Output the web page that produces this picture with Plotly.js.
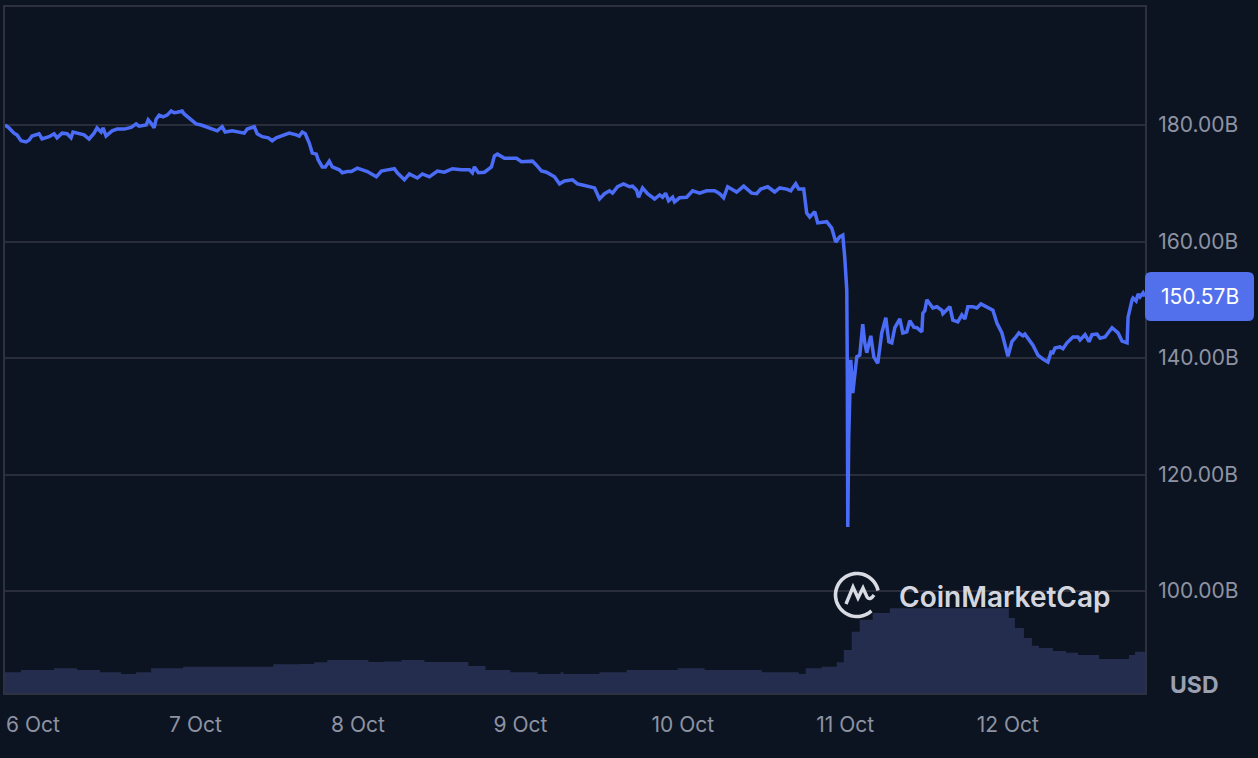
<!DOCTYPE html>
<html>
<head>
<meta charset="utf-8">
<script src="https://cdn.plot.ly/plotly-3.0.1.min.js"></script>
<style>
html,body{margin:0;padding:0;background:#0d1421;}
#chart{width:1258px;height:758px;}
</style>
</head>
<body>
<div id="chart"></div>
<script>
// ---- DATA ----
// Base date for the hour offsets (6 Oct 2025, 00:00)
const baseDate = [2025, 9, 6];

// Market cap (billions USD), hour offsets from 6 Oct 00:00
const priceHours = [
-4.14,-3.55,-2.81,-2.37,-1.77,-1.04,-0.59,-0.15,0.89,1.33,2.37,3.11,3.55,4.29,5.03,5.62,5.91,6.80,7.54,8.28,
9.02,9.46,10.06,10.35,10.79,11.68,12.42,13.46,14.49,15.23,15.67,16.71,17.01,17.45,17.89,18.19,18.63,19.22,19.81,20.41,
20.85,21.29,22.03,22.33,23.07,24.10,24.84,25.58,26.32,27.21,27.95,28.39,29.43,30.46,31.20,31.64,32.24,32.68,33.12,33.86,
34.75,35.34,35.93,36.82,37.85,38.89,39.33,39.78,40.22,40.81,41.26,41.85,42.14,42.73,43.18,43.77,44.21,45.25,45.69,46.43,
47.02,47.91,48.65,49.39,50.72,51.46,52.35,53.38,53.82,54.86,55.60,56.78,57.52,58.56,59.74,60.78,61.96,63.29,64.47,64.91,
65.21,65.80,66.69,67.72,68.17,68.61,69.65,70.68,71.42,72.16,73.05,73.79,74.38,75.12,75.86,77.04,77.78,78.52,79.70,80.44,
81.18,82.51,82.96,83.69,84.43,85.17,85.62,86.36,87.24,88.13,88.57,89.17,89.46,90.05,90.79,91.83,92.57,93.01,93.45,93.90,
94.49,94.78,95.52,96.56,97.45,98.48,99.52,100.70,101.44,102.03,102.62,103.95,104.99,106.17,106.91,107.50,108.54,109.57,110.31,111.35,
111.94,112.68,113.12,113.86,114.30,114.75,115.49,115.93,117.26,118.00,118.59,119.18,119.63,119.92,120.22,120.30,120.37,120.51,120.81,121.11,
121.40,121.70,122.14,122.58,122.88,123.18,123.77,124.21,124.80,125.39,125.99,126.43,126.87,127.32,128.06,128.50,129.09,129.53,130.13,130.57,
131.31,131.46,131.75,132.05,132.94,133.53,134.27,134.42,135.45,135.89,136.63,137.22,137.67,138.11,138.85,139.44,140.04,140.92,141.81,142.40,
143.14,144.03,144.62,145.06,145.65,146.25,146.54,147.72,148.46,149.20,149.94,150.39,150.68,150.98,151.72,152.16,152.75,153.64,154.38,154.68,
155.42,156.01,156.45,157.19,157.64,158.37,158.82,159.41,160.30,160.89,161.63,161.78,162.37,162.51,162.96,163.26,163.55,164.00,164.28
];
const priceValues = [
180.0,179.5,178.6,178.3,177.3,177.1,177.4,178.1,178.5,177.6,178.0,178.5,177.8,178.6,178.5,177.8,178.8,178.6,178.3,177.6,
178.6,179.5,178.8,179.5,178.1,179.0,179.3,179.3,179.6,180.2,179.8,180.0,180.9,180.3,179.5,181.0,181.7,181.4,181.7,182.4,
182.1,182.2,182.4,181.9,181.2,180.2,180.0,179.7,179.3,179.0,179.7,178.8,179.0,178.8,178.6,179.3,179.5,179.7,178.5,178.0,
177.8,177.3,177.8,178.1,178.6,178.3,178.1,178.8,178.5,176.9,175.2,175.0,174.0,172.8,172.8,173.8,172.8,172.3,171.8,172.0,
172.0,172.6,172.3,172.0,171.1,172.1,172.3,172.5,171.8,170.6,171.6,170.9,171.6,171.1,172.1,171.9,172.5,172.3,172.3,171.8,
172.8,171.8,171.9,172.8,174.7,175.0,174.3,174.3,174.3,173.7,173.7,173.8,173.1,172.1,171.9,171.1,169.9,170.4,170.6,169.9,
169.7,169.4,169.2,167.3,168.2,168.7,168.3,169.4,169.9,169.4,169.5,168.8,167.6,169.2,168.2,167.3,168.0,167.6,168.3,167.0,
167.6,166.8,167.5,167.6,168.7,168.3,168.7,168.7,168.2,167.5,169.4,168.5,169.5,168.3,168.2,169.0,169.4,168.5,169.2,169.0,
168.7,169.9,169.0,169.0,164.9,164.2,165.1,163.2,163.4,162.3,159.9,160.8,161.1,157.3,151.7,137.9,111.0,126.4,139.7,134.0,
137.9,140.2,140.5,145.8,142.6,140.9,143.8,140.2,139.1,144.3,146.9,142.8,142.6,145.2,146.7,144.3,144.5,146.4,145.3,145.2,
144.5,147.7,148.1,150.0,148.6,148.8,148.2,147.6,148.8,146.5,146.2,147.4,146.7,148.8,148.8,148.6,149.3,148.8,148.2,146.0,
144.3,140.3,142.8,143.4,144.3,143.8,144.1,142.2,140.5,139.8,139.3,141.0,140.9,141.7,141.9,141.6,142.6,143.6,143.6,143.1,
144.0,142.8,144.0,144.1,143.4,143.6,144.3,145.2,144.3,142.9,142.6,147.0,150.0,150.3,149.8,151.0,150.5,151.2,150.57
];

// Trading volume (billions USD), step starts as hour offsets
const volHours = [-4.14,-1.77,3.11,6.51,9.91,13.01,15.23,17.45,22.18,35.49,39.33,41.55,43.47,49.54,51.90,54.42,57.82,64.32,66.84,70.53,
74.53,77.93,78.37,83.69,87.69,95.23,99.22,107.65,113.12,114.16,116.52,118.74,119.78,120.96,122.14,124.06,126.58,144.17,145.06,146.39,
147.57,148.61,150.68,152.60,154.38,157.49,161.92,162.81,164.28];
const volValues = [4.87,5.41,5.81,5.41,4.87,4.47,4.87,5.81,6.19,6.75,6.82,7.22,7.76,7.29,7.41,7.76,7.29,6.35,5.41,4.87,
4.47,4.87,4.47,4.87,5.41,5.81,5.41,4.87,4.47,5.81,6.19,7.22,10.1,14.4,17.2,18.8,19.9,17.6,15.3,12.9,
11.1,10.6,9.88,9.48,8.94,8.0,8.94,9.72,9.72];

// Axis ticks
const xTickDates = ['2025-10-06','2025-10-07','2025-10-08','2025-10-09','2025-10-10','2025-10-11','2025-10-12'];
const xTickLabels = ['6 Oct','7 Oct','8 Oct','9 Oct','10 Oct','11 Oct','12 Oct'];
const yTickValues = [100,120,140,160,180];
const yTickLabels = ['100.00B','120.00B','140.00B','160.00B','180.00B'];
const currencyLabel = 'USD';
const brandLabel = 'CoinMarketCap';

// ---- BUILD ----
const base = Date.UTC(baseDate[0], baseDate[1], baseDate[2]);
const toTime = h => base + h * 3600000;
const priceX = priceHours.map(toTime);
const volX = volHours.map(toTime);
const lastVal = priceValues[priceValues.length - 1];

const volTrace = {
  type: 'scatter', mode: 'lines', x: volX, y: volValues, yaxis: 'y2',
  line: {shape: 'hv', width: 0, color: '#262e4f'},
  fill: 'tozeroy', fillcolor: '#252d4e', hoverinfo: 'skip'
};
const priceTrace = {
  type: 'scatter', mode: 'lines', x: priceX, y: priceValues,
  line: {color: '#4a6cf6', width: 3.5}, hoverinfo: 'skip'
};

// logo ring path (pixel coords relative to centre)
function arcPath(r, a0, a1, n) {
  let s = '';
  for (let i = 0; i <= n; i++) {
    const a = (a0 + (a1 - a0) * i / n) * Math.PI / 180;
    s += (i === 0 ? 'M ' : ' L ') + (r * Math.cos(a)).toFixed(2) + ' ' + (r * Math.sin(a)).toFixed(2);
  }
  return s;
}
const logoColor = 'rgba(232,235,242,0.93)';
const logoX = (857 - 5) / 1140, logoY = (693 - 595) / 686;

const layout = {
  width: 1258, height: 758,
  margin: {l: 5, r: 113, t: 7, b: 65, pad: 0},
  paper_bgcolor: '#0d1421', plot_bgcolor: '#0d1421',
  showlegend: false,
  font: {family: 'Inter, "Noto Sans", sans-serif', color: '#8d93a3'},
  xaxis: {
    type: 'date', range: [priceX[0], priceX[priceX.length - 1]],
    tickvals: xTickDates, ticktext: xTickLabels,
    showgrid: false, zeroline: false,
    showline: true, mirror: true, linecolor: '#2e3240', linewidth: 2,
    ticks: '', ticklabelstandoff: 12,
    tickfont: {size: 21, color: '#8d93a3'}
  },
  yaxis: {
    side: 'right', range: [82.49, 200.26],
    tickvals: yTickValues, ticktext: yTickLabels,
    showgrid: true, gridcolor: '#2a2e3a', gridwidth: 2,
    zeroline: false,
    showline: true, mirror: true, linecolor: '#2e3240', linewidth: 2,
    ticks: '', ticklabelstandoff: 7,
    tickfont: {size: 21, color: '#8d93a3'}
  },
  yaxis2: {overlaying: 'y', range: [0, 161.2], visible: false, fixedrange: true},
  shapes: [
    {
      type: 'path', layer: 'above',
      xref: 'paper', xsizemode: 'pixel', xanchor: 1,
      yref: 'y', ysizemode: 'pixel', yanchor: lastVal,
      path: 'M 6 -24.5 L 103 -24.5 Q 109 -24.5 109 -18.5 L 109 18.5 Q 109 24.5 103 24.5 L 6 24.5 Q 0 24.5 0 18.5 L 0 -18.5 Q 0 -24.5 6 -24.5 Z',
      fillcolor: '#5370ec', line: {width: 0}
    },
    {
      type: 'path', layer: 'above',
      xref: 'paper', xsizemode: 'pixel', xanchor: logoX,
      yref: 'paper', ysizemode: 'pixel', yanchor: logoY,
      path: arcPath(21.5, 12, 312, 60),
      line: {color: logoColor, width: 3.6}
    },
    {
      type: 'path', layer: 'above',
      xref: 'paper', xsizemode: 'pixel', xanchor: logoX,
      yref: 'paper', ysizemode: 'pixel', yanchor: logoY,
      path: 'M -11 -9 L -4 8 L 1 -3 L 6 7 L 10 -2 Q 13 -6 17 0',
      line: {color: logoColor, width: 3.4}
    }
  ],
  annotations: [
    {
      xref: 'paper', x: 1, xanchor: 'center', xshift: 54.5,
      yref: 'y', y: lastVal, yanchor: 'middle',
      text: lastVal.toFixed(2) + 'B', showarrow: false,
      font: {size: 21, color: '#ffffff', family: 'Inter, sans-serif'}
    },
    {
      xref: 'paper', x: 1, xanchor: 'center', xshift: 49,
      yref: 'paper', y: 0, yanchor: 'middle', yshift: 8,
      text: currencyLabel, showarrow: false,
      font: {size: 23, color: '#9aa0b1', family: 'Inter, sans-serif', weight: 700}
    },
    {
      xref: 'paper', x: (897 - 5) / 1140, xanchor: 'left',
      yref: 'paper', y: (693 - 597) / 686, yanchor: 'middle',
      text: brandLabel, showarrow: false,
      font: {size: 28, color: logoColor, family: 'Inter, sans-serif', weight: 600}
    }
  ]
};

Plotly.newPlot('chart', [volTrace, priceTrace], layout, {staticPlot: true, displayModeBar: false});
</script>
</body>
</html>
